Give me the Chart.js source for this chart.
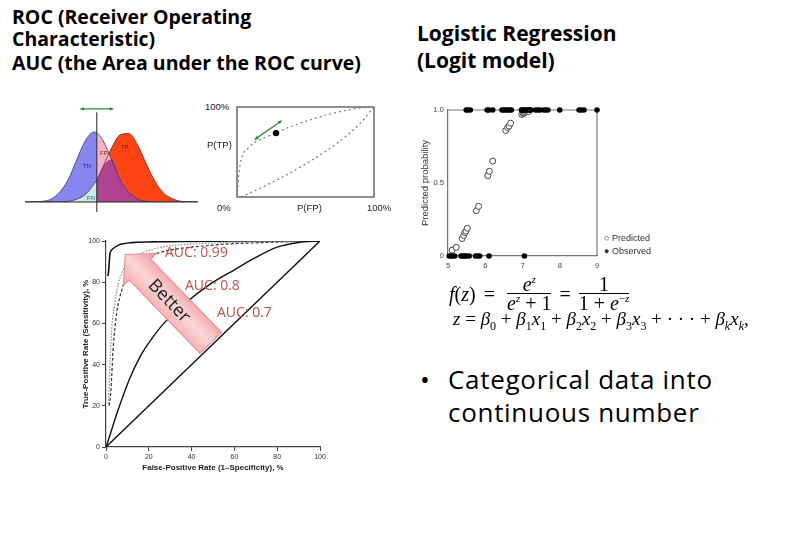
<!DOCTYPE html>
<html>
<head>
<meta charset="utf-8">
<script src="https://cdn.jsdelivr.net/npm/chart.js@4.4.1/dist/chart.umd.min.js"></script>
<style>
  body { margin: 0; background: #fff; width: 799px; height: 545px; position: relative; overflow: hidden; font-family: "Open Sans", sans-serif; color: #000; }
  canvas { position: absolute; }
  .t { position: absolute; white-space: nowrap; }
  .h { font-weight: bold; font-size: 19.5px; line-height: 22px; }
  .lab { font-family: "Liberation Sans", Arial, sans-serif; font-size: 9.5px; color: #222; line-height: 12px; }
  .auc { font-size: 14px; color: #c0504d; line-height: 18px; }
  .math { font-family: "Liberation Serif", serif; font-size: 19px; line-height: 22px; }
  .frac { display: inline-flex; flex-direction: column; text-align: center; margin: 0 6px; line-height: 16px; }
  .frac > span:first-child { border-bottom: 1px solid #000; padding: 0 3px 1px; }
  .frac > span:last-child { padding-top: 1px; }
  .dist { font-size: 6px; font-family: "Liberation Sans", Arial, sans-serif; line-height: 8px; }
  sup, sub { line-height: 0; }
</style>
</head>
<body>

<div class="t h" style="left:12px;top:6px">ROC (Receiver Operating</div>
<div class="t h" style="left:12px;top:28px">Characteristic)</div>
<div class="t h" style="left:12px;top:52px">AUC (the Area under the ROC curve)</div>

<div class="t h" style="left:417px;top:20px;font-size:21px;line-height:26px">Logistic Regression</div>
<div class="t h" style="left:417px;top:47px;font-size:21px;line-height:26px">(Logit model)</div>

<canvas id="dist" width="185" height="115" style="left:20px;top:100px"></canvas>
<div class="t dist" style="left:83px;top:162px;color:#22226a">TN</div>
<div class="t dist" style="left:100px;top:149px;color:#7a1a1a">FP</div>
<div class="t dist" style="left:121px;top:143px;color:#7a1010">TP</div>
<div class="t dist" style="left:87px;top:194px;color:#1a5a5a">FN</div>

<canvas id="mini" width="150" height="105" style="left:230px;top:100px"></canvas>
<div class="t lab" style="left:205px;top:101px">100%</div>
<div class="t lab" style="left:207px;top:139px">P(TP)</div>
<div class="t lab" style="left:217px;top:202px">0%</div>
<div class="t lab" style="left:297px;top:202px">P(FP)</div>
<div class="t lab" style="left:367px;top:202px">100%</div>

<canvas id="roc" width="270" height="250" style="left:70px;top:230px"></canvas>
<div class="t auc" style="left:165px;top:243px">AUC: 0.99</div>
<div class="t auc" style="left:185px;top:276px">AUC: 0.8</div>
<div class="t auc" style="left:217px;top:303px">AUC: 0.7</div>

<canvas id="logit" width="200" height="180" style="left:405px;top:95px"></canvas>
<div class="t lab" style="left:604px;top:232px;font-size:9px;color:#333">○ Predicted</div>
<div class="t lab" style="left:604px;top:245px;font-size:9px;color:#333">● Observed</div>

<div class="t math" style="left:449px;top:276px;display:flex;align-items:center;font-size:20px">
  <span><i>f</i>(<i>z</i>)</span>
  <span style="margin:0 6px 0 8px">=</span>
  <span class="frac"><span><i>e<sup style="font-size:11px">z</sup></i></span><span><i>e<sup style="font-size:11px">z</sup></i> + 1</span></span>
  <span style="margin:0 2px">=</span>
  <span class="frac"><span>1</span><span>1 + <i>e</i><sup style="font-size:11px">−<i>z</i></sup></span></span>
</div>
<div class="t math" style="left:453px;top:308px"><i>z</i> = <i>β</i><sub style="font-size:12px">0</sub> + <i>β</i><sub style="font-size:12px">1</sub><i>x</i><sub style="font-size:12px">1</sub> + <i>β</i><sub style="font-size:12px">2</sub><i>x</i><sub style="font-size:12px">2</sub> + <i>β</i><sub style="font-size:12px">3</sub><i>x</i><sub style="font-size:12px">3</sub> + · · · + <i>β</i><sub style="font-size:12px"><i>k</i></sub><i>x</i><sub style="font-size:12px"><i>k</i></sub>,</div>

<div class="t" style="left:420px;top:363px;font-size:26px;line-height:33px">•</div>
<div class="t" style="left:448px;top:363px;font-size:26px;line-height:33px;letter-spacing:0.7px">Categorical data into<br>continuous number</div>

<script>
// score distributions (negative / positive class)
const distX   = [0, 5, 10, 15, 20, 25, 30, 35, 40, 41.5, 45, 50, 55, 60, 65, 70, 75, 80, 85, 90, 95, 100];
const distNeg = [0, 0.002, 0.01, 0.04, 0.14, 0.32, 0.61, 0.88, 1, 0.99, 0.88, 0.61, 0.32, 0.14, 0.04, 0.01, 0.002, 0, 0, 0, 0, 0];
const distPos = [0, 0, 0, 0, 0, 0.01, 0.04, 0.11, 0.26, 0.31, 0.5, 0.77, 0.96, 0.98, 0.82, 0.55, 0.3, 0.13, 0.05, 0.01, 0.003, 0];
const cutX = 41.5;
const shiftArrow = [32, 51];

// small ROC sketch
const miniFprA = [0, 0.5, 2.2, 9.5, 22, 46, 70, 90, 100];
const miniTprA = [0, 10, 35, 56, 67, 82, 93, 99, 100];
const miniFprB = [3, 20, 46, 75, 90, 100];
const miniTprB = [0, 12, 33, 62, 82, 100];
const miniPoint = [28.5, 71];
const miniArrow = [[13, 64], [32.6, 84.8]];

// big ROC chart
const diagFpr = [0, 100];
const diagTpr = [0, 100];
const auc07Fpr = [0, 1, 5, 11, 16, 21, 27, 35, 50, 60, 70, 80, 90, 100];
const auc07Tpr = [0, 3, 16, 33, 44, 52, 60, 68, 80, 86, 92, 97, 99.3, 100];
const dotFpr = [1.1, 1.9, 2.6, 3.9, 5.8, 8.9, 12.8, 22, 40, 70, 100];
const dotTpr = [21, 40.6, 56.6, 68, 79.4, 87.5, 91.6, 96, 98.5, 99.5, 100];
const dashFpr = [1.5, 2.3, 3.4, 5, 7.3, 10.4, 16.6, 23.6, 50, 75, 100];
const dashTpr = [20, 27.7, 48.7, 65, 76, 84.3, 90.8, 94, 98, 99.3, 100];
const auc99Fpr = [0.8, 1.1, 1.9, 3, 5.8, 12, 30, 60, 100];
const auc99Tpr = [83, 84.3, 94, 96, 98, 99.2, 99.7, 100, 100];
const betterTail = [49, 50.5];
const betterTip = [9, 93.5];

// logistic regression
const predX = [5.11, 5.22, 5.38, 5.42, 5.45, 5.48, 5.52, 5.76, 5.82, 6.07, 6.11, 6.2, 6.55, 6.6, 6.64, 6.68, 6.98, 7.02, 7.05, 7.08, 7.12, 7.16];
const predY = [0.04, 0.06, 0.12, 0.14, 0.16, 0.17, 0.19, 0.31, 0.34, 0.55, 0.58, 0.65, 0.86, 0.88, 0.89, 0.91, 0.97, 0.975, 0.98, 0.985, 0.99, 0.99];
const obsHighX = [5.49, 5.53, 5.6, 6.05, 6.1, 6.2, 6.45, 6.5, 6.55, 6.6, 6.65, 6.7, 6.97, 7.0, 7.03, 7.06, 7.1, 7.13, 7.17, 7.2, 7.23, 7.35, 7.41, 7.47, 7.57, 7.62, 7.68, 8.0, 8.52, 8.58, 8.65, 9.0];
const obsLowX = [5.03, 5.08, 5.13, 5.18, 5.35, 5.4, 5.45, 5.5, 5.57, 5.74, 5.8, 5.85, 6.1, 7.05];

const pts = (xs, ys) => xs.map((x, i) => ({x, y: ys[i]}));

Chart.defaults.font.family = '"Liberation Sans", Arial, sans-serif';
Chart.defaults.animation = false;
Chart.defaults.responsive = false;
Chart.defaults.plugins.legend.display = false;
Chart.defaults.plugins.tooltip.enabled = false;

function doubleArrow(ctx, x1, y1, x2, y2, color) {
    const a = Math.atan2(y2 - y1, x2 - x1), h = 4;
    ctx.strokeStyle = color; ctx.fillStyle = color; ctx.lineWidth = 1.3;
    ctx.beginPath(); ctx.moveTo(x1, y1); ctx.lineTo(x2, y2); ctx.stroke();
    [[x2, y2, a], [x1, y1, a + Math.PI]].forEach(([x, y, t]) => {
        ctx.beginPath();
        ctx.moveTo(x, y);
        ctx.lineTo(x - h * Math.cos(t - 0.5), y - h * Math.sin(t - 0.5));
        ctx.lineTo(x - h * Math.cos(t + 0.5), y - h * Math.sin(t + 0.5));
        ctx.closePath(); ctx.fill();
    });
}

// --- distributions ---
const distMin = distNeg.map((v, i) => Math.min(v, distPos[i]));
const side = (ys, left) => pts(distX, ys).filter(p => left ? p.x <= cutX : p.x >= cutX);
const area = (data, color, order) => ({data, order, showLine: true, fill: 'origin', backgroundColor: color, borderWidth: 0, pointRadius: 0, cubicInterpolationMode: 'monotone'});
const outline = (data, color, order) => ({data, order, showLine: true, fill: false, borderColor: color, borderWidth: 0.8, pointRadius: 0, cubicInterpolationMode: 'monotone'});

new Chart(document.getElementById('dist'), {
    type: 'scatter',
    data: {
        datasets: [
            outline(pts(distX, distNeg), '#3a3a6a', 0),
            outline(pts(distX, distPos), '#6a2a2a', 1),
            area(side(distMin, false), '#b1428f', 2),
            area(side(distNeg, false), '#f3b3c3', 3),
            area(side(distPos, false), '#ff4413', 4),
            area(side(distMin, true), '#c6eceb', 5),
            area(side(distNeg, true), '#8686f0', 6)
        ]
    },
    options: {
        layout: {padding: {left: 5, right: 7, top: 7.5, bottom: 13}},
        scales: {
            x: {type: 'linear', min: 0, max: 100, display: false},
            y: {min: 0, max: 1.35, display: false}
        }
    },
    plugins: [{
        id: 'distMarks',
        afterDatasetsDraw(chart) {
            const {ctx, chartArea, scales: {x, y}} = chart;
            ctx.save();
            ctx.strokeStyle = '#222'; ctx.lineWidth = 1;
            ctx.beginPath();
            ctx.moveTo(chartArea.left, y.getPixelForValue(0));
            ctx.lineTo(chartArea.right, y.getPixelForValue(0));
            const cx = x.getPixelForValue(cutX);
            ctx.moveTo(cx, y.getPixelForValue(1.28));
            ctx.lineTo(cx, y.getPixelForValue(0) + 10);
            ctx.stroke();
            doubleArrow(ctx, x.getPixelForValue(shiftArrow[0]), y.getPixelForValue(1.33),
                        x.getPixelForValue(shiftArrow[1]), y.getPixelForValue(1.33), '#2e8b3a');
            ctx.restore();
        }
    }]
});

// --- small ROC ---
const dotted = (data) => ({data, showLine: true, borderColor: '#777', borderWidth: 1.2, borderDash: [2, 3], pointRadius: 0, cubicInterpolationMode: 'monotone'});
new Chart(document.getElementById('mini'), {
    type: 'scatter',
    data: {
        datasets: [
            {data: [{x: miniPoint[0], y: miniPoint[1]}], pointRadius: 3.2, backgroundColor: '#000', borderWidth: 0},
            dotted(pts(miniFprA, miniTprA)),
            dotted(pts(miniFprB, miniTprB))
        ]
    },
    options: {
        layout: {padding: {left: 7, right: 6, top: 7, bottom: 8}},
        scales: {
            x: {type: 'linear', min: 0, max: 100, display: false},
            y: {min: 0, max: 100, display: false}
        }
    },
    plugins: [{
        id: 'miniFrame',
        beforeDatasetsDraw(chart) {
            const {ctx, chartArea: a} = chart;
            ctx.save();
            ctx.strokeStyle = '#444'; ctx.lineWidth = 1.2;
            ctx.strokeRect(a.left, a.top, a.right - a.left, a.bottom - a.top);
            ctx.restore();
        },
        afterDatasetsDraw(chart) {
            const {ctx, scales: {x, y}} = chart;
            ctx.save();
            doubleArrow(ctx, x.getPixelForValue(miniArrow[0][0]), y.getPixelForValue(miniArrow[0][1]),
                        x.getPixelForValue(miniArrow[1][0]), y.getPixelForValue(miniArrow[1][1]), '#2e8b3a');
            ctx.restore();
        }
    }]
});

// --- big ROC ---
const betterArrow = {
    id: 'betterArrow',
    afterDatasetsDraw(chart) {
        const {ctx, scales: {x, y}} = chart;
        const tx = x.getPixelForValue(betterTail[0]), ty = y.getPixelForValue(betterTail[1]);
        const hx = x.getPixelForValue(betterTip[0]), hy = y.getPixelForValue(betterTip[1]);
        const len = Math.hypot(hx - tx, hy - ty);
        const sw = 15, hw = 23, hl = 21;
        ctx.save();
        ctx.translate(tx, ty);
        ctx.rotate(Math.atan2(hy - ty, hx - tx));
        const g = ctx.createLinearGradient(0, -hw, 0, hw);
        g.addColorStop(0, '#f4a3a5');
        g.addColorStop(0.5, '#fcd6d8');
        g.addColorStop(1, '#f19598');
        ctx.beginPath();
        ctx.moveTo(0, -sw); ctx.lineTo(len - hl, -sw); ctx.lineTo(len - hl, -hw); ctx.lineTo(len, 0);
        ctx.lineTo(len - hl, hw); ctx.lineTo(len - hl, sw); ctx.lineTo(0, sw); ctx.closePath();
        ctx.fillStyle = g; ctx.fill();
        ctx.strokeStyle = '#e48a8e'; ctx.lineWidth = 1; ctx.stroke();
        ctx.translate(len * 0.48, 0);
        ctx.rotate(Math.PI);
        ctx.fillStyle = '#1c1c1c';
        ctx.font = '18px "Open Sans"';
        ctx.textAlign = 'center'; ctx.textBaseline = 'middle';
        ctx.fillText('Better', 0, 1);
        ctx.restore();
    }
};
const curve = (data, color, width, dash) => ({data, showLine: true, borderColor: color, borderWidth: width, borderDash: dash || [], pointRadius: 0, cubicInterpolationMode: 'monotone'});
const axisStyle = {
    grid: {display: true, drawOnChartArea: false, tickLength: 4, color: '#444'},
    border: {color: '#444', width: 1.2}
};
new Chart(document.getElementById('roc'), {
    type: 'scatter',
    data: {
        datasets: [
            curve(pts(diagFpr, diagTpr), '#111', 1.4),
            curve(pts(auc07Fpr, auc07Tpr), '#111', 1.4),
            curve(pts(dotFpr, dotTpr), '#888', 1.2, [1.5, 1.5]),
            curve(pts(dashFpr, dashTpr), '#333', 1.2, [3, 2]),
            curve(pts(auc99Fpr, auc99Tpr), '#111', 1.6)
        ]
    },
    options: {
        layout: {padding: {left: 0, right: 20, top: 11, bottom: 0}},
        scales: {
            x: {
                type: 'linear', min: 0, max: 100, ...axisStyle,
                afterFit(s) { s.height = 33; },
                ticks: {stepSize: 20, font: {size: 7}, color: '#333', padding: 2},
                title: {display: true, text: 'False-Positive Rate (1\u2013Specificity), %', font: {size: 8, weight: 'bold'}, color: '#222', padding: {top: 0, bottom: 7}}
            },
            y: {
                min: 0, max: 100, ...axisStyle,
                afterFit(s) { s.width = 36; },
                ticks: {stepSize: 20, font: {size: 7}, color: '#333', padding: 2},
                title: {display: true, text: 'True-Positive Rate (Sensitivity), %', font: {size: 8, weight: 'bold'}, color: '#222', padding: {top: 11, bottom: 0}}
            }
        }
    },
    plugins: [betterArrow]
});

// --- logistic regression ---
new Chart(document.getElementById('logit'), {
    type: 'scatter',
    data: {
        datasets: [
            {data: obsHighX.map(x => ({x, y: 1})), pointRadius: 2.8, backgroundColor: '#000', borderWidth: 0, clip: false},
            {data: obsLowX.map(x => ({x, y: 0})), pointRadius: 2.8, backgroundColor: '#000', borderWidth: 0, clip: false},
            {data: pts(predX, predY), pointRadius: 3, backgroundColor: '#fff', borderColor: '#444', borderWidth: 1, clip: false}
        ]
    },
    options: {
        layout: {padding: {left: 0, right: 8, top: 15, bottom: 0}},
        scales: {
            x: {
                type: 'linear', min: 5, max: 9,
                afterFit(s) { s.height = 19; },
                grid: {display: false, drawTicks: false}, border: {color: '#777', width: 1.2},
                ticks: {stepSize: 1, font: {size: 7.5}, color: '#444', padding: 5}
            },
            y: {
                min: 0, max: 1,
                afterFit(s) { s.width = 43; },
                grid: {display: false, drawTicks: false}, border: {color: '#777', width: 1.2},
                ticks: {stepSize: 0.5, font: {size: 7.5}, color: '#444', padding: 4,
                        callback: v => v === 0 ? '0' : v.toFixed(1)},
                title: {display: true, text: 'Predicted probability', font: {size: 9.5}, color: '#333', padding: {top: 15, bottom: 0}}
            }
        }
    },
    plugins: [{
        id: 'logitFrame',
        beforeDatasetsDraw(chart) {
            const {ctx, chartArea: a} = chart;
            ctx.save();
            ctx.strokeStyle = '#777'; ctx.lineWidth = 1.2;
            ctx.beginPath();
            ctx.moveTo(a.left, a.top); ctx.lineTo(a.right, a.top); ctx.lineTo(a.right, a.bottom);
            ctx.stroke();
            ctx.restore();
        }
    }]
});
</script>
</body>
</html>
